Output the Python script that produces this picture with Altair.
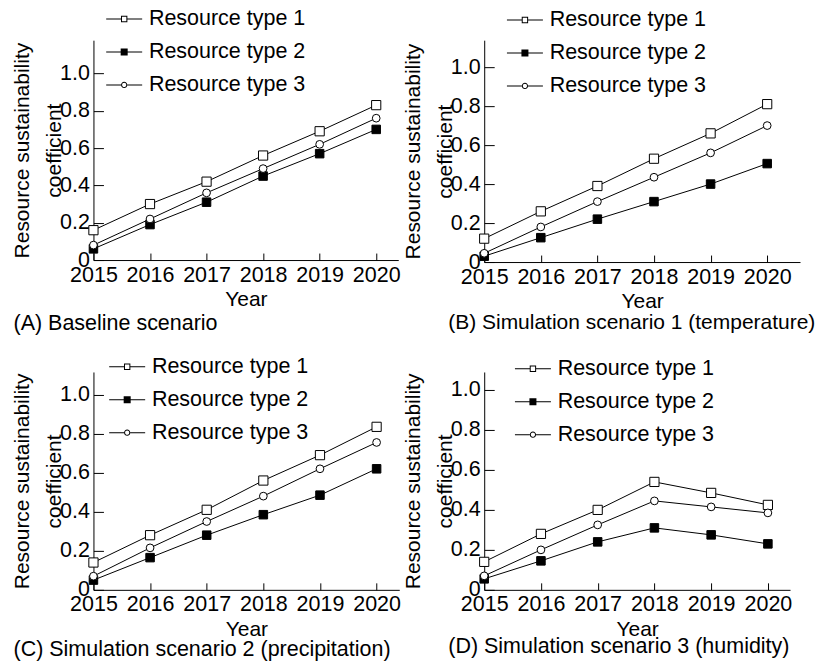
import altair as alt
import pandas as pd

years = [2015, 2016, 2017, 2018, 2019, 2020]
series = ["Resource type 1", "Resource type 2", "Resource type 3"]
y_ticks = [0, 0.2, 0.4, 0.6, 0.8, 1.0]

# (A) Baseline scenario
a_type1 = [0.16, 0.30, 0.42, 0.56, 0.69, 0.83]
a_type2 = [0.06, 0.19, 0.31, 0.45, 0.57, 0.70]
a_type3 = [0.08, 0.22, 0.36, 0.49, 0.62, 0.76]
# (B) Simulation scenario 1 (temperature)
b_type1 = [0.12, 0.26, 0.39, 0.53, 0.66, 0.81]
b_type2 = [0.03, 0.125, 0.22, 0.31, 0.40, 0.505]
b_type3 = [0.045, 0.18, 0.31, 0.435, 0.56, 0.70]
# (C) Simulation scenario 2 (precipitation)
c_type1 = [0.14, 0.28, 0.41, 0.56, 0.69, 0.835]
c_type2 = [0.05, 0.165, 0.28, 0.385, 0.485, 0.62]
c_type3 = [0.07, 0.215, 0.35, 0.48, 0.62, 0.755]
# (D) Simulation scenario 3 (humidity)
d_type1 = [0.14, 0.28, 0.40, 0.54, 0.485, 0.425]
d_type2 = [0.055, 0.145, 0.24, 0.31, 0.275, 0.23]
d_type3 = [0.07, 0.20, 0.325, 0.445, 0.415, 0.385]

captions = [
    "(A) Baseline scenario",
    "(B) Simulation scenario 1 (temperature)",
    "(C) Simulation scenario 2 (precipitation)",
    "(D) Simulation scenario 3 (humidity)",
]

FONT = "Liberation Sans"
FS = 21.5
TFS = 21

# ---- legend glyphs (line + marker), drawn as filled outlines --------------
K = 3.5  # px per path unit for symbolSize 49


def u(v):
    return f"{v / K:.4f}"


def seg(a, b, t=0.5):
    return f"M{u(a)},{u(-t)}H{u(b)}V{u(t)}H{u(a)}Z"


def sq(r):  # clockwise square
    return f"M{u(-r)},{u(-r)}H{u(r)}V{u(r)}H{u(-r)}Z"


def sq_hole(r):  # counter-clockwise square
    return f"M{u(-r)},{u(-r)}V{u(r)}H{u(r)}V{u(-r)}Z"


def ring(r, sweep):
    return (f"M{u(r)},0A{u(r)},{u(r)},0,1,{sweep},{u(-r)},0"
            f"A{u(r)},{u(r)},0,1,{sweep},{u(r)},0Z")


L = 18
G1 = seg(-L, -3.2) + seg(3.2, L) + sq(3.2) + sq_hole(2.2)
G2 = seg(-L, -3.5) + seg(3.5, L) + sq(3.5)
G3 = seg(-L, -3.1) + seg(3.1, L) + ring(3.1, 1) + ring(2.1, 0)


def panel(vals, caption, w, h, xmax, ymax, lx, ly, cdx, coff, cfs=FS):
    rows = []
    for s, v in zip(series, vals):
        for yr, val in zip(years, v):
            rows.append({"year": yr, "value": val, "series": s})
    df = pd.DataFrame(rows)
    base = alt.Chart(df)
    xs = alt.Scale(domain=[2015, xmax], nice=False, zero=False)
    ys = alt.Scale(domain=[0, ymax], nice=False)

    x_main = alt.X(
        "year:Q", scale=xs,
        axis=alt.Axis(
            values=years, format="d", title="Year", ticks=False,
            labelPadding=4, titlePadding=3, grid=False,
            labelOverlap=False, labelFlush=False,
        ),
    )
    y_main = alt.Y(
        "value:Q", scale=ys,
        axis=alt.Axis(
            values=y_ticks, ticks=False, labelPadding=4, titlePadding=-5,
            grid=False, title=["Resource sustainability", "coefficient"],
            labelOverlap=False, labelFlush=False,
            labelExpr="datum.value == 0 ? '0' : format(datum.value, '.1f')",
        ),
    )
    x_tk = alt.X(
        "year:Q", scale=xs,
        axis=alt.Axis(
            orient="top", offset=-h, values=years, labels=False,
            domain=False, title=None, tickSize=7, grid=False,
            tickColor="black", tickWidth=1,
        ),
    )
    y_tk = alt.Y(
        "value:Q", scale=ys,
        axis=alt.Axis(
            orient="right", offset=-w, values=y_ticks, labels=False,
            domain=False, title=None, tickSize=10, grid=False,
            tickColor="black", tickWidth=1,
        ),
    )

    line = base.mark_line(color="black", strokeWidth=1).encode(
        x=x_main, y=y_main, detail="series:N"
    )
    pts = base.mark_point(stroke="black", strokeWidth=1, opacity=1).encode(
        x=x_tk,
        y=y_tk,
        shape=alt.Shape(
            "series:N",
            scale=alt.Scale(domain=series, range=["square", "square", "circle"]),
            legend=None,
        ),
        fill=alt.Fill(
            "series:N",
            scale=alt.Scale(domain=series, range=["white", "black", "white"]),
            legend=None,
        ),
        size=alt.Size(
            "series:N",
            scale=alt.Scale(domain=series, range=[85, 60, 50]),
            legend=None,
        ),
    )
    leg = base.transform_filter("false").mark_point(
        filled=True, fill="black", strokeWidth=0, opacity=1
    ).encode(
        x=alt.X("year:Q", scale=xs, axis=None),
        y=alt.Y("value:Q", scale=ys, axis=None),
        shape=alt.Shape(
            "series:N",
            scale=alt.Scale(domain=series, range=[G1, G2, G3]),
            legend=alt.Legend(
                orient="none", legendX=lx, legendY=ly, title=None,
                labelFontSize=FS, labelFont=FONT, labelColor="black",
                symbolSize=49, symbolFillColor="black", symbolOpacity=1,
                symbolStrokeWidth=0, labelOffset=14, rowPadding=10,
                padding=0,
            ),
        ),
    )
    return alt.layer(line, pts, leg).resolve_axis(
        x="independent", y="independent"
    ).resolve_scale(shape="independent", fill="independent", size="independent").properties(
        width=w, height=h,
        title=alt.TitleParams(
            caption, orient="bottom", anchor="start", frame="group",
            dx=cdx, offset=coff, fontSize=cfs, font=FONT, fontWeight="normal",
            color="black",
        ),
    )


pa = panel([a_type1, a_type2, a_type3], captions[0], 305, 220, 2020.39, 1.178, 20, -32, -80, 3)
pb = panel([b_type1, b_type2, b_type3], captions[1], 316, 222, 2020.58, 1.138, 30, -31, -36, 0, 21)
pc = panel([c_type1, c_type2, c_type3], captions[2], 306, 218, 2020.4, 1.116, 23, -16, -80, 0)
pd_ = panel([d_type1, d_type2, d_type3], captions[3], 306, 218, 2020.39, 1.09, 38, -14, -36, -3)

chart = alt.concat(
    pa, pb, pc, pd_, columns=2, bounds="flush",
    spacing={"row": 110, "column": 85},
).resolve_scale(shape="independent", fill="independent", size="independent") \
    .resolve_legend(shape="independent") \
    .properties(padding={"top": 0, "left": 3.5, "right": 0, "bottom": 0}) \
    .configure_view(stroke=None).configure_axis(
        labelFont=FONT, titleFont=FONT, labelFontSize=FS, titleFontSize=TFS,
        labelColor="black", titleColor="black", domainColor="black",
        domainWidth=1, titleFontWeight="normal", titleLineHeight=32,
    )

chart.save("out.html", embed_options={"renderer": "svg", "actions": False})
